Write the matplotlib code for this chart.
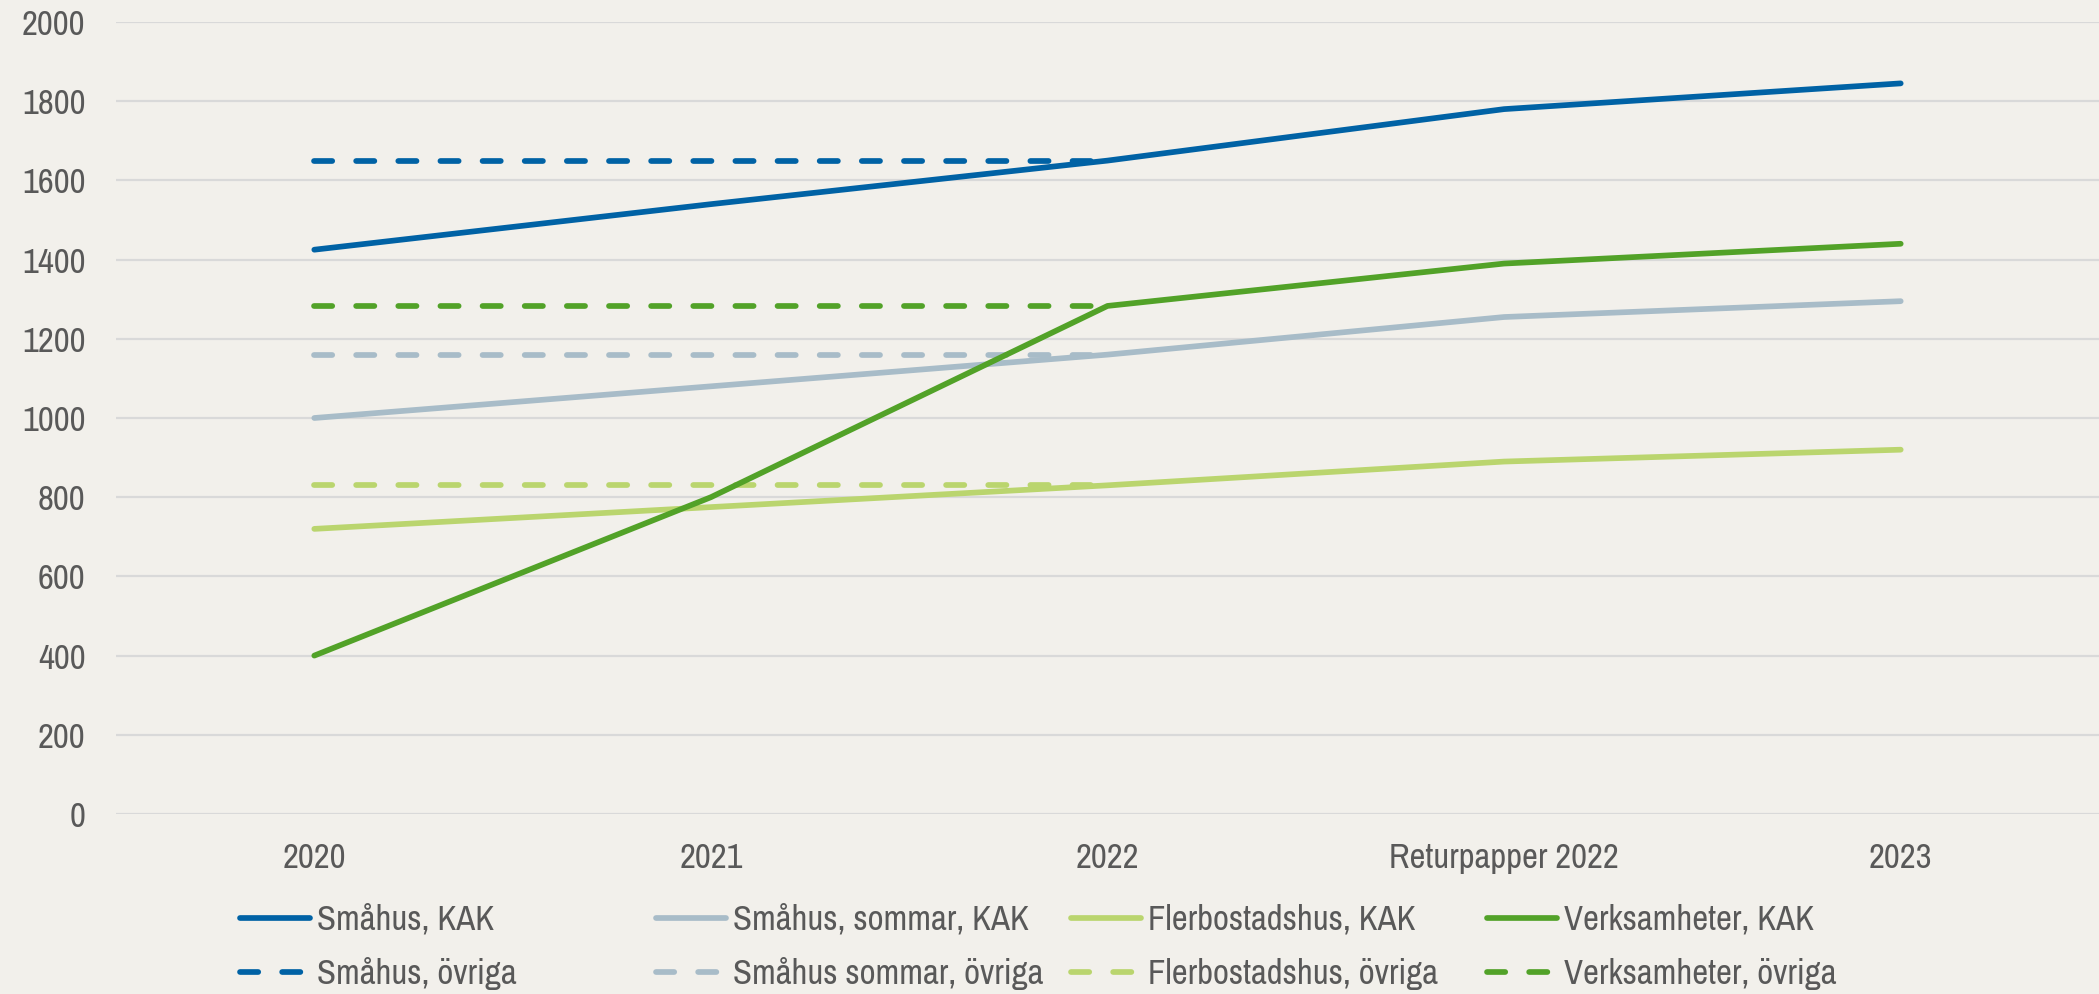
import matplotlib
matplotlib.use("Agg")
import matplotlib.pyplot as plt
from matplotlib.lines import Line2D

# ── data ──────────────────────────────────────────────────────────────────
categories = ["2020", "2021", "2022", "Returpapper 2022", "2023"]
ovriga_cats = ["2020", "2021", "2022"]

smahus_kak = [1425, 1540, 1650, 1780, 1845]
sommar_kak = [1000, 1080, 1160, 1255, 1295]
flerbo_kak = [720, 775, 830, 890, 920]
verks_kak = [400, 800, 1283, 1390, 1440]

smahus_ovr = [1650, 1650, 1650]
sommar_ovr = [1160, 1160, 1160]
flerbo_ovr = [830, 830, 830]
verks_ovr = [1283, 1283, 1283]

series = [
    ("Småhus, KAK", smahus_kak, "Småhus, övriga", smahus_ovr, "#0062A5"),
    ("Småhus, sommar, KAK", sommar_kak, "Småhus sommar, övriga", sommar_ovr, "#A8BCC8"),
    ("Flerbostadshus, KAK", flerbo_kak, "Flerbostadshus, övriga", flerbo_ovr, "#BAD56E"),
    ("Verksamheter, KAK", verks_kak, "Verksamheter, övriga", verks_ovr, "#52A228"),
]

BG = "#F2F0EB"
GRID = "#D9D9D9"
TEXT = "#595959"
FS = 25
LW = 4.1
DASH = (3.2, 4.2)

plt.rcParams["font.family"] = ["Liberation Sans Narrow", "Archivo Narrow", "Liberation Sans", "DejaVu Sans"]

W, H = 2099, 994
fig = plt.figure(figsize=(W / 100, H / 100), dpi=100, facecolor=BG)
ax = fig.add_axes([116 / W, 1 - 814 / H, (W - 116) / W, (814 - 22) / H])
ax.set_facecolor(BG)

x = list(range(len(categories)))
x_ovr = [categories.index(c) for c in ovriga_cats]

for kak_label, kak, ovr_label, ovr, color in series:
    ax.plot(x_ovr, ovr, color=color, lw=LW, dashes=DASH,
            dash_capstyle="round", zorder=2)
for kak_label, kak, ovr_label, ovr, color in series:
    ax.plot(x, kak, color=color, lw=LW, solid_capstyle="round",
            solid_joinstyle="round", zorder=3)

ax.set_xlim(-0.5, len(categories) - 0.5)
ax.set_ylim(0, 2000)
ax.set_yticks(range(0, 2001, 200))
ax.set_xticks(x)
ax.set_xticklabels(categories)
ax.yaxis.grid(True, color=GRID, lw=1.6)
ax.set_axisbelow(True)
for s in ax.spines.values():
    s.set_visible(False)
ax.tick_params(axis="both", length=0, labelsize=FS, labelcolor=TEXT)
ax.tick_params(axis="y", pad=22)
ax.tick_params(axis="x", pad=20)

# ── legend: four equal-width columns, two rows (drawn in figure pixels) ──
col_x = [240, 656, 1071, 1487]
row_y = [918, 972]
for (kak_label, kak, ovr_label, ovr, color), cx in zip(series, col_x):
    for ry, label, solid in [(row_y[0], kak_label, True), (row_y[1], ovr_label, False)]:
        fy = 1 - ry / H
        ln = Line2D([cx / W, (cx + 70) / W], [fy, fy], transform=fig.transFigure,
                    color=color, lw=LW, solid_capstyle="round", dash_capstyle="round")
        if not solid:
            ln.set_dashes(DASH)
        fig.add_artist(ln)
        fig.text((cx + 77) / W, 1 - (ry + 12) / H, label, fontsize=FS,
                 color=TEXT, ha="left", va="baseline")

fig.savefig("out.png", dpi=100, facecolor=BG)
